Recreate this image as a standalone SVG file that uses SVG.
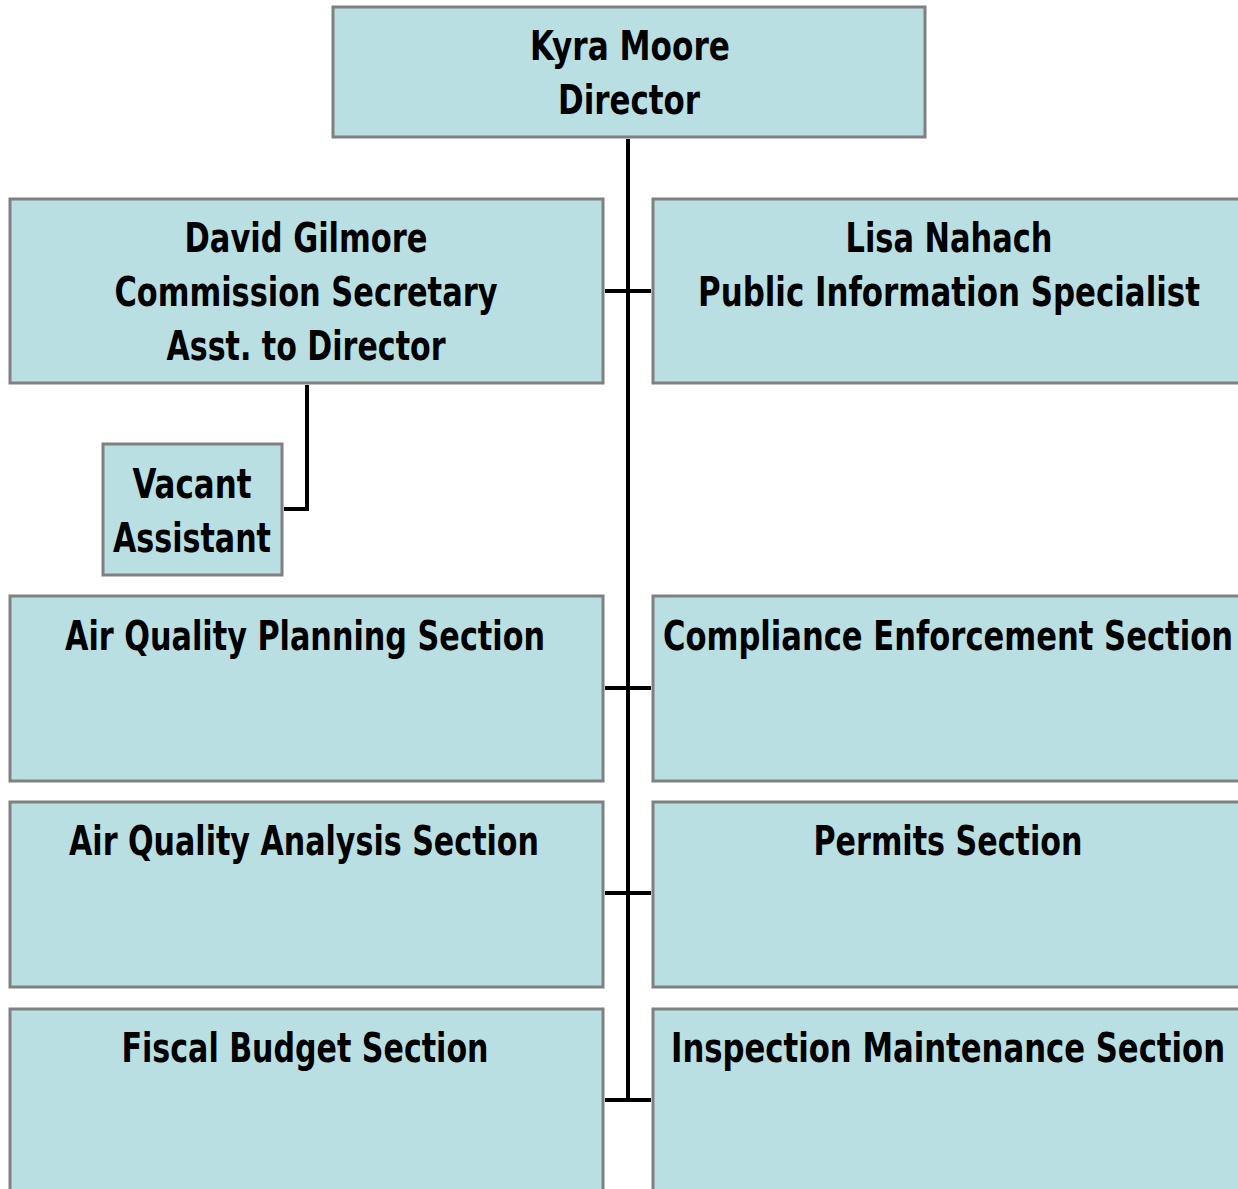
<svg xmlns="http://www.w3.org/2000/svg" width="1238" height="1189" viewBox="0 0 1238 1189">
<style>
.box{fill:#b9dfe3;stroke:#808080;stroke-width:3}
.t{font-family:"DejaVu Sans Condensed","DejaVu Sans",sans-serif;font-weight:bold;font-size:40px;fill:#000;text-anchor:middle}
.c{fill:none;stroke:#000;stroke-width:4}
</style>
<rect width="1238" height="1189" fill="#fff"/>
<g id="connectors">
<line class="c" x1="628" y1="139" x2="628" y2="1102"/>
<line class="c" x1="605" y1="291" x2="651" y2="291"/>
<line class="c" x1="605" y1="688" x2="651" y2="688"/>
<line class="c" x1="605" y1="893" x2="651" y2="893"/>
<line class="c" x1="605" y1="1100" x2="651" y2="1100"/>
<polyline class="c" points="307,385 307,509 284,509"/>
</g>
<g id="director"><rect class="box" x="333" y="7" width="592" height="130"/>
<text class="t" x="630" y="60" textLength="200" lengthAdjust="spacingAndGlyphs">Kyra Moore</text><text class="t" x="629" y="114" textLength="142" lengthAdjust="spacingAndGlyphs">Director</text></g>
<g id="gilmore"><rect class="box" x="10" y="199" width="593" height="184"/>
<text class="t" x="306" y="252" textLength="243" lengthAdjust="spacingAndGlyphs">David Gilmore</text><text class="t" x="306" y="306" textLength="383" lengthAdjust="spacingAndGlyphs">Commission Secretary</text><text class="t" x="306" y="360" textLength="279" lengthAdjust="spacingAndGlyphs">Asst. to Director</text></g>
<g id="nahach"><rect class="box" x="653" y="199" width="600" height="184"/>
<text class="t" x="949" y="252" textLength="207" lengthAdjust="spacingAndGlyphs">Lisa Nahach</text><text class="t" x="949" y="306" textLength="502" lengthAdjust="spacingAndGlyphs">Public Information Specialist</text></g>
<g id="vacant"><rect class="box" x="103" y="444" width="179" height="131"/>
<text class="t" x="192" y="498" textLength="119" lengthAdjust="spacingAndGlyphs">Vacant</text><text class="t" x="192" y="552" textLength="158" lengthAdjust="spacingAndGlyphs">Assistant</text></g>
<g id="aqp"><rect class="box" x="10" y="596" width="593" height="185"/>
<text class="t" x="305" y="650" textLength="480" lengthAdjust="spacingAndGlyphs">Air Quality Planning Section</text></g>
<g id="ces"><rect class="box" x="653" y="596" width="600" height="185"/>
<text class="t" x="948" y="650" textLength="570" lengthAdjust="spacingAndGlyphs">Compliance Enforcement Section</text></g>
<g id="aqa"><rect class="box" x="10" y="802" width="593" height="185"/>
<text class="t" x="304" y="855" textLength="470" lengthAdjust="spacingAndGlyphs">Air Quality Analysis Section</text></g>
<g id="permits"><rect class="box" x="653" y="802" width="600" height="185"/>
<text class="t" x="948" y="855" textLength="269" lengthAdjust="spacingAndGlyphs">Permits Section</text></g>
<g id="fiscal"><rect class="box" x="10" y="1009" width="593" height="200"/>
<text class="t" x="305" y="1062" textLength="367" lengthAdjust="spacingAndGlyphs">Fiscal Budget Section</text></g>
<g id="inspection"><rect class="box" x="653" y="1009" width="600" height="200"/>
<text class="t" x="948" y="1062" textLength="554" lengthAdjust="spacingAndGlyphs">Inspection Maintenance Section</text></g>
</svg>
